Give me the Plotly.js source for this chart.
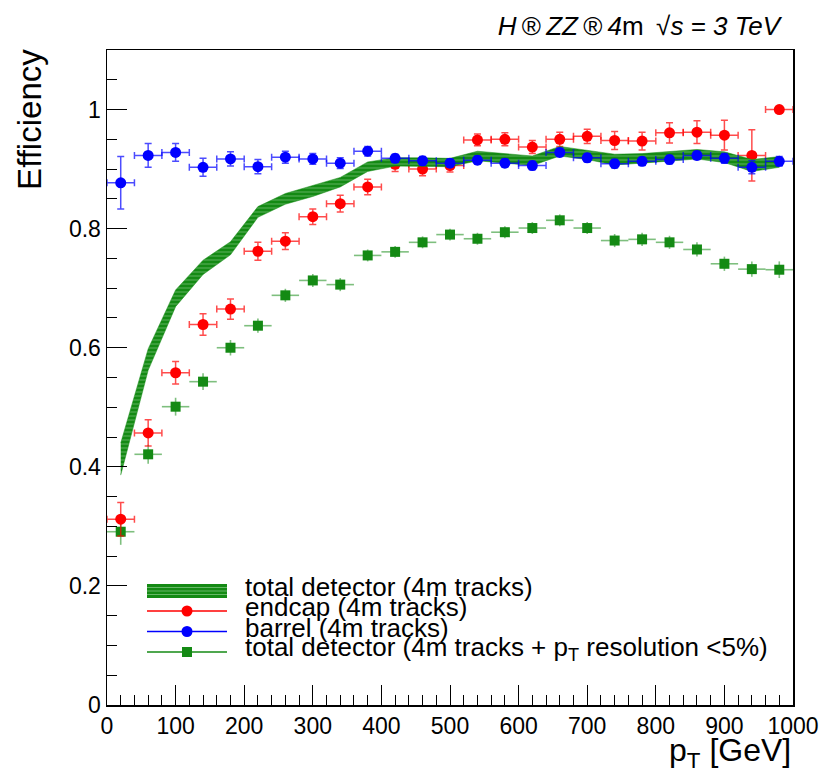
<!DOCTYPE html>
<html><head><meta charset="utf-8">
<script src="https://cdn.plot.ly/plotly-3.0.1.min.js"></script>
<style>html,body{margin:0;padding:0;background:#fff}</style>
</head><body><div id="chart" style="width:825px;height:784px"></div>
<script>
// ---- data ----
const ptBins = [20,60,100,140,180,220,260,300,340,380,420,460,500,540,580,620,660,700,740,780,820,860,900,940,980];
const ptHalfWidth = 20;

const totalEff = [0.413,0.580,0.683,0.735,0.767,0.828,0.850,0.863,0.878,0.904,0.912,0.912,0.911,0.922,0.918,0.914,0.930,0.924,0.916,0.918,0.921,0.925,0.920,0.906,0.912];
const totalErr = [0.027,0.018,0.014,0.012,0.011,0.009,0.009,0.009,0.008,0.008,0.007,0.007,0.007,0.008,0.008,0.008,0.008,0.008,0.009,0.008,0.008,0.008,0.009,0.010,0.009];

const endcapEff = [0.312,0.457,0.558,0.639,0.665,0.762,0.779,0.820,0.842,0.870,0.908,0.900,0.906,0.949,0.950,0.937,0.950,0.955,0.948,0.947,0.961,0.962,0.957,0.923,1.000];
const endcapErr = [0.028,0.022,0.019,0.018,0.017,0.015,0.014,0.013,0.014,0.013,0.012,0.011,0.011,0.010,0.011,0.011,0.012,0.012,0.015,0.015,0.017,0.019,0.025,0.043,0.000];

const barrelEff = [0.877,0.923,0.928,0.903,0.917,0.904,0.920,0.917,0.910,0.930,0.918,0.914,0.910,0.915,0.910,0.906,0.928,0.919,0.909,0.913,0.916,0.923,0.918,0.903,0.913];
const barrelErr = [0.044,0.020,0.015,0.015,0.012,0.012,0.010,0.009,0.009,0.008,0.007,0.007,0.007,0.007,0.007,0.007,0.007,0.007,0.007,0.007,0.007,0.007,0.008,0.011,0.008];

const resEff = [0.291,0.421,0.501,0.543,0.600,0.637,0.688,0.713,0.706,0.755,0.761,0.777,0.790,0.783,0.794,0.801,0.814,0.801,0.780,0.782,0.777,0.765,0.741,0.732,0.731];
const resErr = [0.022,0.016,0.015,0.014,0.013,0.012,0.011,0.011,0.011,0.010,0.010,0.010,0.010,0.010,0.010,0.010,0.010,0.010,0.011,0.011,0.011,0.012,0.012,0.013,0.014];

const legendLabels = [
  "total detector (4m tracks)",
  "endcap (4m tracks)",
  "barrel (4m tracks)",
  "total detector (4m tracks + p<sub>T</sub> resolution <5%)"
];
const titleText = "<i>H</i>\u2009®\u2009<i>ZZ</i>\u2009®\u2009<i>4</i>m \u2009√<i>s = 3 TeV</i>";
const xTitle = "p<sub>T</sub> [GeV]";
const yTitle = "Efficiency";

// ---- styling ----
const FONT = "Liberation Sans, Arial, Helvetica, sans-serif";
const GREEN = "#148a14";
const RED = "#ff0000";
const BLUE = "#0000ff";
const W = 825, H = 784;
const M = {l:107, r:32, t:50, b:79};
const plotW = W - M.l - M.r, plotH = H - M.t - M.b;
const px2x = p => (p - M.l) / plotW;          // pixel -> paper x
const py2y = p => (H - M.b - p) / plotH;      // pixel -> paper y

const upper = totalEff.map((v,i) => v + totalErr[i]);
const lower = totalEff.map((v,i) => v - totalErr[i]);

const traces = [
  { // pT resolution < 5%
    type:"scatter", mode:"markers", x:ptBins, y:resEff,
    marker:{symbol:"square", size:10, color:GREEN},
    error_x:{type:"constant", value:ptHalfWidth, width:0, thickness:1.6, color:"rgba(20,138,20,0.55)"},
    error_y:{type:"data", array:resErr, width:0, thickness:1.6, color:"rgba(20,138,20,0.55)"},
    showlegend:false, hoverinfo:"skip"
  },
  { // endcap
    type:"scatter", mode:"markers", x:ptBins, y:endcapEff,
    marker:{symbol:"circle", size:11, color:RED},
    error_x:{type:"constant", value:ptHalfWidth, width:3.5, thickness:1.5, color:"rgba(255,0,0,0.7)"},
    error_y:{type:"data", array:endcapErr, width:3.5, thickness:1.5, color:"rgba(255,0,0,0.7)"},
    showlegend:false, hoverinfo:"skip"
  },
  { // total detector band
    type:"scatter", mode:"lines",
    x: ptBins.concat(ptBins.slice().reverse()),
    y: upper.concat(lower.slice().reverse()),
    fill:"toself", fillcolor:GREEN,
    fillpattern:{shape:"-", bgcolor:GREEN, fgcolor:"#79c079", size:4, solidity:0.18},
    line:{width:0.5, color:GREEN},
    showlegend:false, hoverinfo:"skip"
  },
  { // barrel
    type:"scatter", mode:"markers", x:ptBins, y:barrelEff,
    marker:{symbol:"circle", size:11, color:BLUE},
    error_x:{type:"constant", value:ptHalfWidth, width:3.5, thickness:1.5, color:"rgba(0,0,255,0.7)"},
    error_y:{type:"data", array:barrelErr, width:3.5, thickness:1.5, color:"rgba(0,0,255,0.7)"},
    showlegend:false, hoverinfo:"skip"
  }
];

// ---- legend drawn as a ROOT-style key (symbols + real text) ----
const legRowsPx = [591, 611, 631.5, 652];
const legSymX0 = 147, legSymX1 = 227, legTextX = 243;
const shapes = [];
const annotations = [];
// band key
shapes.push({type:"rect", xref:"paper", yref:"paper", x0:px2x(legSymX0), x1:px2x(legSymX1),
  y0:py2y(legRowsPx[0]+7), y1:py2y(legRowsPx[0]-7), fillcolor:GREEN, line:{width:0}});
[-3.5, 0, 3.5].forEach(d => shapes.push({type:"line", xref:"paper", yref:"paper",
  x0:px2x(legSymX0), x1:px2x(legSymX1), y0:py2y(legRowsPx[0]+d), y1:py2y(legRowsPx[0]+d),
  line:{width:0.8, color:"rgba(170,220,170,0.7)"}}));
// marker keys
const keyStyles = [
  {row:1, color:RED, kind:"circle"},
  {row:2, color:BLUE, kind:"circle"},
  {row:3, color:GREEN, kind:"square"}
];
keyStyles.forEach(k => {
  const yy = legRowsPx[k.row];
  shapes.push({type:"line", xref:"paper", yref:"paper", x0:px2x(legSymX0), x1:px2x(legSymX1),
    y0:py2y(yy), y1:py2y(yy), line:{width:1.5, color:k.color}});
  const cx = (legSymX0 + legSymX1)/2, r = k.kind === "circle" ? 5.5 : 5;
  shapes.push({type:k.kind === "circle" ? "circle" : "rect", xref:"paper", yref:"paper",
    x0:px2x(cx-r), x1:px2x(cx+r), y0:py2y(yy+r), y1:py2y(yy-r), fillcolor:k.color, line:{width:0}});
});
legendLabels.forEach((t,i) => annotations.push({
  text:t, xref:"paper", yref:"paper", x:px2x(legTextX), y:py2y(legRowsPx[i]-4),
  xanchor:"left", yanchor:"middle", showarrow:false,
  font:{family:FONT, size:26, color:"#000"}
}));
// axis titles (ROOT places them at the axis ends)
annotations.push({text:xTitle, xref:"paper", yref:"paper", x:1, y:py2y(752),
  xanchor:"right", yanchor:"middle", showarrow:false, font:{family:FONT, size:32, color:"#000"}});
annotations.push({text:yTitle, xref:"paper", yref:"paper", x:px2x(30), y:1.004, textangle:-90,
  xanchor:"center", yanchor:"top", showarrow:false, font:{family:FONT, size:33, color:"#000"}});

const axisCommon = {
  ticks:"inside", ticklen:20, tickwidth:1, tickcolor:"#000",
  showline:true, linecolor:"#000", linewidth:1.5, mirror:true,
  showgrid:false, zeroline:false,
  tickfont:{family:FONT, size:23, color:"#000"}
};

const layout = {
  width:W, height:H, margin:M,
  paper_bgcolor:"#fff", plot_bgcolor:"#fff",
  showlegend:false,
  title:{text:titleText, font:{family:FONT, size:26, color:"#000"},
    x:780/W, xanchor:"right", xref:"container", y:1-26/H, yanchor:"middle", yref:"container"},
  xaxis:Object.assign({}, axisCommon, {range:[0,1000], tickmode:"linear", tick0:0, dtick:100, tickangle:0,
    minor:{dtick:20, tick0:0, ticks:"inside", ticklen:10, tickcolor:"#000", tickwidth:1, showgrid:false}}),
  yaxis:Object.assign({}, axisCommon, {range:[0,1.1], tickmode:"linear", tick0:0, dtick:0.2,
    minor:{dtick:0.05, tick0:0, ticks:"inside", ticklen:10, tickcolor:"#000", tickwidth:1, showgrid:false}}),
  shapes:shapes, annotations:annotations
};

Plotly.newPlot("chart", traces, layout, {staticPlot:true, displayModeBar:false});
</script></body></html>
